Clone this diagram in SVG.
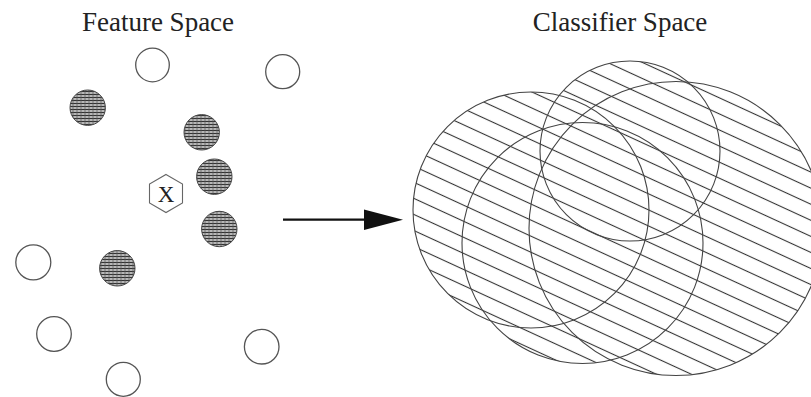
<svg xmlns="http://www.w3.org/2000/svg" width="811" height="397" viewBox="0 0 811 397">
  <defs>
    <pattern id="dense" patternUnits="userSpaceOnUse" width="4" height="3">
      <rect width="4" height="3" fill="#d8d8d8"/>
      <path d="M0 1.5 H4" stroke="#333" stroke-width="1.4"/>
      <path d="M1 0 V3" stroke="#555" stroke-width="0.7"/>
    </pattern>
    <pattern id="hatch" patternUnits="userSpaceOnUse" width="20" height="14.6" patternTransform="rotate(24.7)">
      <path d="M-2 7.3 H22" stroke="#333" stroke-width="1.1"/>
    </pattern>
    <clipPath id="union">
      <circle cx="531" cy="210" r="118"/>
      <circle cx="630" cy="151" r="90"/>
      <circle cx="582.5" cy="243" r="120.5"/>
      <circle cx="676" cy="228.5" r="147"/>
    </clipPath>
    <style>
      .title { font-family: "Liberation Serif", "Times New Roman", serif; font-size: 27px; fill: #222; text-anchor: middle; }
      .open { fill: #ffffff; stroke: #555; stroke-width: 1.3; }
      .filled { fill: url(#dense); stroke: #444; stroke-width: 1; }
      .region { fill: none; stroke: #444; stroke-width: 1.1; }
      .hex { fill: #ffffff; stroke: #666; stroke-width: 1.1; }
      .xlabel { font-family: "Liberation Serif", "Times New Roman", serif; font-size: 23px; fill: #222; text-anchor: middle; }
    </style>
  </defs>
  <rect width="811" height="397" fill="#ffffff"/>

  <text class="title" x="158" y="30.5">Feature Space</text>
  <text class="title" x="620" y="30.5">Classifier Space</text>

  <g id="feature-space">
    <g id="open1"><circle class="open" cx="152.5" cy="65" r="16.8"/></g>
    <g id="open2"><circle class="open" cx="282.7" cy="71.7" r="17"/></g>
    <g id="open3"><circle class="open" cx="33.3" cy="262.3" r="17.5"/></g>
    <g id="open4"><circle class="open" cx="54" cy="334" r="17.3"/></g>
    <g id="open5"><circle class="open" cx="261.7" cy="346.7" r="17.3"/></g>
    <g id="open6"><circle class="open" cx="123.3" cy="379.3" r="17"/></g>
    <g id="filled1"><circle class="filled" cx="87.7" cy="107.7" r="17.7"/></g>
    <g id="filled2"><circle class="filled" cx="201.7" cy="132.3" r="17.7"/></g>
    <g id="filled3"><circle class="filled" cx="214.3" cy="176.7" r="17.7"/></g>
    <g id="filled4"><circle class="filled" cx="219.3" cy="229" r="17.7"/></g>
    <g id="filled5"><circle class="filled" cx="117.3" cy="268.3" r="17.7"/></g>
    <g id="query-x">
      <polygon class="hex" points="166,174.5 182.5,184 182.5,203 166,212.5 149.5,203 149.5,184"/>
      <text class="xlabel" x="166" y="201.5">X</text>
    </g>
  </g>

  <g id="classifier-space">
    <rect id="hatching" x="400" y="50" width="411" height="340" fill="url(#hatch)" clip-path="url(#union)"/>
    <g id="region-left"><circle class="region" cx="531" cy="210" r="118"/></g>
    <g id="region-top"><circle class="region" cx="630" cy="151" r="90"/></g>
    <g id="region-middle"><circle class="region" cx="582.5" cy="243" r="120.5"/></g>
    <g id="region-right"><circle class="region" cx="676" cy="228.5" r="147"/></g>
  </g>

  <g id="connectors">
    <line x1="283" y1="219.7" x2="366" y2="219.7" stroke="#111" stroke-width="2.2"/>
    <polygon points="364,209.5 403,219.7 364,230" fill="#111"/>
  </g>
</svg>
